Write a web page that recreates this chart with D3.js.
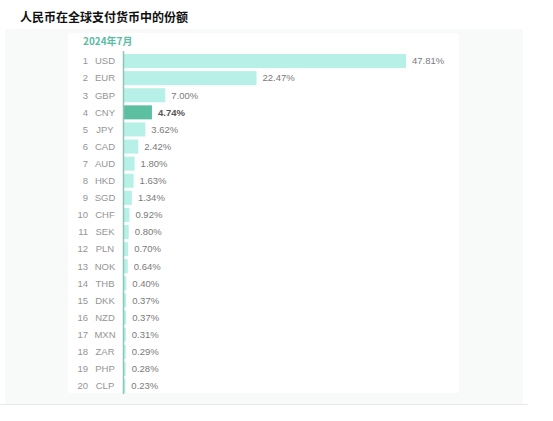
<!DOCTYPE html>
<html>
<head>
<meta charset="utf-8">
<script src="https://cdn.jsdelivr.net/npm/d3@7"></script>
<style>
  body { margin: 0; background: #fff; }
  svg { display: block; font-family: "Liberation Sans", Arial, "Noto Sans CJK SC", sans-serif; }
</style>
</head>
<body>
<div class="canvas"></div>
<script>
const ranks = d3.range(1, 21);
const currencies = ['USD', 'EUR', 'GBP', 'CNY', 'JPY', 'CAD', 'AUD', 'HKD', 'SGD', 'CHF',
  'SEK', 'PLN', 'NOK', 'THB', 'DKK', 'NZD', 'MXN', 'ZAR', 'PHP', 'CLP'];
const shares = [47.81, 22.47, 7.00, 4.74, 3.62, 2.42, 1.80, 1.63, 1.34, 0.92,
  0.80, 0.70, 0.64, 0.40, 0.37, 0.37, 0.31, 0.29, 0.28, 0.23];
const highlight = 'CNY';

const data = currencies.map((c, i) => ({ rank: ranks[i], code: c, share: shares[i] }));

const svg = d3.select('.canvas')
  .append('svg')
    .attr('width', 553)
    .attr('height', 421);

// grey page panel + white card
svg.append('rect')
  .attr('x', 5).attr('y', 29)
  .attr('width', 518).attr('height', 375)
  .attr('fill', '#f8f9f9');
svg.append('line')
  .attr('x1', 0).attr('x2', 528)
  .attr('y1', 404.5).attr('y2', 404.5)
  .attr('stroke', '#e8eaea');
svg.append('rect')
  .attr('x', 68).attr('y', 33)
  .attr('width', 391).attr('height', 360)
  .attr('rx', 3)
  .attr('fill', '#fff');

svg.append('text')
  .attr('x', 20).attr('y', 22)
  .attr('font-size', 12)
  .attr('font-weight', 'bold')
  .attr('font-family', '"Noto Sans CJK SC", sans-serif')
  .attr('fill', '#111')
  .text('人民币在全球支付货币中的份额');

svg.append('text')
  .attr('x', 83).attr('y', 45)
  .attr('font-size', 10)
  .attr('font-weight', 'bold')
  .attr('font-family', '"Noto Sans CJK SC", sans-serif')
  .attr('fill', '#5bbca6')
  .text('2024年7月');

const x0 = 124;
const x = d3.scaleLinear()
  .domain([0, d3.max(shares)])
  .range([x0, 406]);

const y = d3.scaleBand()
  .domain(currencies)
  .range([52.5, 394.5])
  .paddingInner(0.18)
  .paddingOuter(0.09);

const rows = svg.append('g')
  .selectAll('g')
  .data(data)
  .enter()
  .append('g')
    .attr('transform', d => `translate(0, ${y(d.code)})`);

rows.append('rect')
  .attr('x', x0)
  .attr('y', 0)
  .attr('width', d => x(d.share) - x0)
  .attr('height', y.bandwidth())
  .attr('fill', d => d.code === highlight ? '#5cc0a0' : '#b7f0e7');

rows.append('text')
  .attr('x', 88)
  .attr('y', y.bandwidth() / 2)
  .attr('dy', '0.35em')
  .attr('text-anchor', 'end')
  .attr('font-size', 9.5)
  .attr('fill', '#959595')
  .text(d => d.rank);

rows.append('text')
  .attr('x', 105)
  .attr('y', y.bandwidth() / 2)
  .attr('dy', '0.35em')
  .attr('text-anchor', 'middle')
  .attr('font-size', 9.5)
  .attr('fill', '#959595')
  .text(d => d.code);

rows.append('text')
  .attr('x', d => x(d.share) + 6)
  .attr('y', y.bandwidth() / 2)
  .attr('dy', '0.35em')
  .attr('font-size', 9.5)
  .attr('font-weight', d => d.code === highlight ? 'bold' : 'normal')
  .attr('fill', d => d.code === highlight ? '#555' : '#7a7a7a')
  .text(d => d.share.toFixed(2) + '%');

// axis line
svg.append('line')
  .attr('x1', x0 - 0.5).attr('x2', x0 - 0.5)
  .attr('y1', 51).attr('y2', 394)
  .attr('stroke', '#8fc5b6')
  .attr('stroke-width', 1.5);
</script>
</body>
</html>
